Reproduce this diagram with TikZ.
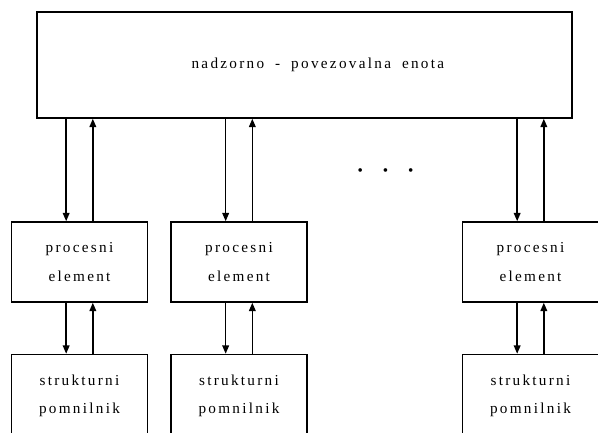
\documentclass[tikz,border=0pt]{standalone}
\usepackage{fontspec}
\newfontfamily\labelfont[LetterSpace=15]{Liberation Serif}
\newfontfamily\unitfont[LetterSpace=15, WordSpace=1.8]{Liberation Serif}
\usetikzlibrary{arrows.meta, positioning}
\tikzset{
	font = {\labelfont\fontsize{13pt}{24pt}\selectfont},
	unit/.style = {rectangle, draw = black, line width = 1.3pt, minimum width = 16.05cm, minimum height = 3.18cm, text centered, font = {\unitfont\fontsize{13pt}{24pt}\selectfont}},
	proc/.style = {rectangle, draw = black, line width = 1.3pt, minimum width = 4.08cm, minimum height = 2.4cm, align = center},
	mem/.style = {proc, minimum height = 2.5cm},
	arrow/.style = {-{Triangle[length = 2.5mm, width = 2mm]}, draw = black, line width = 1.3pt}
}

\begin{document}
\begin{tikzpicture}
	\useasboundingbox (0,0) rectangle (17.94,-12.99);
	\clip (0,0) rectangle (17.94,-12.99);
	
	%%%%%%%% central unit %%%%%%%%
	\node (nadzor) [unit] at (9.135cm,-1.95cm) {\hspace*{0.8cm}nadzorno - povezovalna enota};
	
	%% processing elements
	\node (pe1) [proc] at (2.385cm,-7.86cm) {procesni\\element};
	\node (pe2) [proc] at (7.17cm,-7.86cm) {procesni\\element};
	\node (pe3) [proc] at (15.915cm,-7.86cm) {procesni\\element};
	
	%% structural memories (cut off at the bottom)
	\node (pm1) [mem, below = 1.53cm of pe1] {strukturni\\pomnilnik};
	\node (pm2) [mem, below = 1.53cm of pe2] {strukturni\\pomnilnik};
	\node (pm3) [mem, below = 1.53cm of pe3] {strukturni\\pomnilnik};
	
	% more elements in between
	\node (dots) at (11.565cm,-5.16cm) {\textbullet\hspace{0.6cm}\textbullet\hspace{0.6cm}\textbullet};
	
	%%% arrows %%%
	% bus lines of each element
	\coordinate (d1) at ([xshift=-0.4cm]pe1.north);
	\coordinate (u1) at ([xshift=0.4cm]pe1.north);
	\coordinate (d2) at ([xshift=-0.4cm]pe2.north);
	\coordinate (u2) at ([xshift=0.4cm]pe2.north);
	\coordinate (d3) at ([xshift=-0.4cm]pe3.north);
	\coordinate (u3) at ([xshift=0.4cm]pe3.north);
	
	\draw [arrow] (d1 |- nadzor.south) -- (d1);
	\draw [arrow] (u1) -- (u1 |- nadzor.south);
	\draw [arrow] (d2 |- nadzor.south) -- (d2);
	\draw [arrow] (u2) -- (u2 |- nadzor.south);
	\draw [arrow] (d3 |- nadzor.south) -- (d3);
	\draw [arrow] (u3) -- (u3 |- nadzor.south);
	
	% element <-> memory
	\draw [arrow] ([xshift=-0.4cm]pe1.south) -- ([xshift=-0.4cm]pm1.north);
	\draw [arrow] ([xshift=0.4cm]pm1.north) -- ([xshift=0.4cm]pe1.south);
	\draw [arrow] ([xshift=-0.4cm]pe2.south) -- ([xshift=-0.4cm]pm2.north);
	\draw [arrow] ([xshift=0.4cm]pm2.north) -- ([xshift=0.4cm]pe2.south);
	\draw [arrow] ([xshift=-0.4cm]pe3.south) -- ([xshift=-0.4cm]pm3.north);
	\draw [arrow] ([xshift=0.4cm]pm3.north) -- ([xshift=0.4cm]pe3.south);
\end{tikzpicture}
\end{document}
